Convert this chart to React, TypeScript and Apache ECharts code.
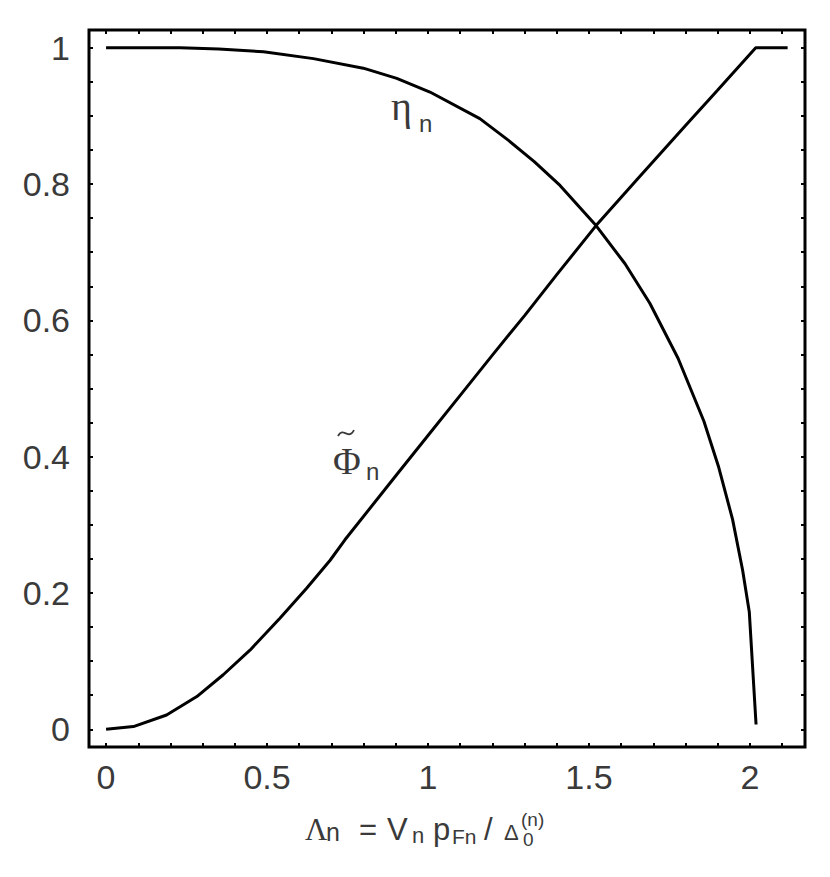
import React, { useEffect, useRef } from "react";
import * as echarts from "echarts";

// η_n curve
const etaX = [0, 0.1, 0.23, 0.35, 0.489, 0.644, 0.799, 0.903, 1.006, 1.161, 1.25, 1.33, 1.41, 1.522, 1.612, 1.689, 1.777, 1.857, 1.902, 1.946, 1.977, 1.998, 2.019];
const etaY = [1, 1, 1.0, 0.998, 0.994, 0.984, 0.97, 0.955, 0.935, 0.896, 0.864, 0.833, 0.798, 0.739, 0.683, 0.625, 0.544, 0.452, 0.386, 0.308, 0.234, 0.172, 0.007];

// Φ̃_n curve
const phiX = [0, 0.085, 0.188, 0.282, 0.364, 0.447, 0.54, 0.623, 0.696, 0.742, 0.9, 1.0, 1.1, 1.2, 1.3, 1.4, 1.522, 1.65, 1.8, 1.9, 2.018, 2.117];
const phiY = [0, 0.004, 0.021, 0.048, 0.08, 0.116, 0.163, 0.207, 0.248, 0.278, 0.372, 0.431, 0.49, 0.549, 0.607, 0.667, 0.739, 0.807, 0.886, 0.938, 1.0, 1.0];

const xLabels = [0, 0.5, 1, 1.5, 2];
const xTicks = [0, 0.1, 0.2, 0.3, 0.4, 0.5, 0.6, 0.7, 0.8, 0.9, 1, 1.1, 1.2, 1.3, 1.4, 1.5, 1.6, 1.7, 1.8, 1.9, 2, 2.1];
const yLabels = [0, 0.2, 0.4, 0.6, 0.8, 1];
const yTicks = [0, 0.05, 0.1, 0.15, 0.2, 0.25, 0.3, 0.35, 0.4, 0.45, 0.5, 0.55, 0.6, 0.65, 0.7, 0.75, 0.8, 0.85, 0.9, 0.95, 1];

const X_MIN = -0.053;
const X_MAX = 2.171;
const Y_MIN = -0.026;
const Y_MAX = 1.026;

const SANS = "'Liberation Sans', Arial, Helvetica, sans-serif";
const SERIF = "'Liberation Serif', 'Times New Roman', serif";
const TXT = "#3a3a3a";

function t(text: string, left: number, baseline: number, size: number, family = SANS) {
  return {
    type: "text",
    x: left,
    y: baseline - 0.35 * size,
    silent: true,
    style: {
      text,
      font: `${size}px ${family}`,
      fill: TXT,
      textAlign: "left",
      textVerticalAlign: "middle",
    },
  };
}

export default function App() {
  const ref = useRef<HTMLDivElement>(null);
  useEffect(() => {
    if (!ref.current) return;
    const chart = echarts.init(ref.current, null, { renderer: "svg" });
    const tickBase = { show: true, inside: true, length: 4, lineStyle: { color: "#000", width: 2 } };
    const noLine = { show: false, onZero: false };
    const option: any = {
      animation: false,
      backgroundColor: "#fff",
      grid: {
        left: 89,
        right: 25,
        top: 30,
        bottom: 130,
        show: true,
        borderColor: "#000",
        borderWidth: 3,
        backgroundColor: "transparent",
      },
      xAxis: [
        {
          type: "value",
          min: X_MIN,
          max: X_MAX,
          position: "bottom",
          axisLine: noLine,
          splitLine: { show: false },
          axisTick: { ...tickBase, customValues: xTicks },
          axisLabel: {
            customValues: xLabels,
            margin: 13,
            fontSize: 34,
            fontFamily: SANS,
            color: TXT,
            formatter: (v: number) => String(v),
          },
        },
        {
          type: "value",
          min: X_MIN,
          max: X_MAX,
          position: "top",
          axisLine: noLine,
          splitLine: { show: false },
          axisTick: { ...tickBase, customValues: xTicks },
          axisLabel: { show: false },
        },
      ],
      yAxis: [
        {
          type: "value",
          min: Y_MIN,
          max: Y_MAX,
          position: "left",
          axisLine: noLine,
          splitLine: { show: false },
          axisTick: { ...tickBase, customValues: yTicks },
          axisLabel: {
            customValues: yLabels,
            margin: 19,
            fontSize: 34,
            fontFamily: SANS,
            color: TXT,
            formatter: (v: number) => String(v),
          },
        },
        {
          type: "value",
          min: Y_MIN,
          max: Y_MAX,
          position: "right",
          axisLine: noLine,
          splitLine: { show: false },
          axisTick: { ...tickBase, customValues: yTicks },
          axisLabel: { show: false },
        },
      ],
      series: [
        {
          name: "eta",
          type: "line",
          data: etaX.map((x, i) => [x, etaY[i]]),
          showSymbol: false,
          lineStyle: { color: "#000", width: 3 },
          silent: true,
        },
        {
          name: "phi",
          type: "line",
          data: phiX.map((x, i) => [x, phiY[i]]),
          showSymbol: false,
          lineStyle: { color: "#000", width: 3 },
          silent: true,
        },
      ],
      graphic: [
        // curve labels
        t("η", 391, 120, 40, SERIF),
        t("n", 419, 132, 24),
        {
          type: "bezierCurve",
          silent: true,
          shape: { x1: 338, y1: 436, cpx1: 343, cpy1: 426, cpx2: 349, cpy2: 441, x2: 354, y2: 430 },
          style: { stroke: TXT, lineWidth: 1.8, fill: "none" },
        },
        t("Φ", 333, 474, 38, SERIF),
        t("n", 366, 480, 24),
        // x axis title: Λn = Vn pFn/ Δ0^(n)
        t("Λ", 305, 840, 31, SERIF),
        t("n", 326, 841, 25),
        t("=", 359, 840, 31),
        t("V", 387, 840, 31),
        t("n", 412, 843, 22),
        t("p", 433, 840, 31),
        t("Fn", 452, 844, 21),
        t("/", 484, 840, 31),
        t("Δ", 504, 840, 22),
        t("0", 523, 846, 19),
        t("(n)", 521, 826, 19),
      ],
    };
    chart.setOption(option);
    return () => chart.dispose();
  }, []);
  return (
    <div
      ref={ref}
      style={{ position: "fixed", left: 0, top: 0, width: 830, height: 877, background: "#fff" }}
    />
  );
}
